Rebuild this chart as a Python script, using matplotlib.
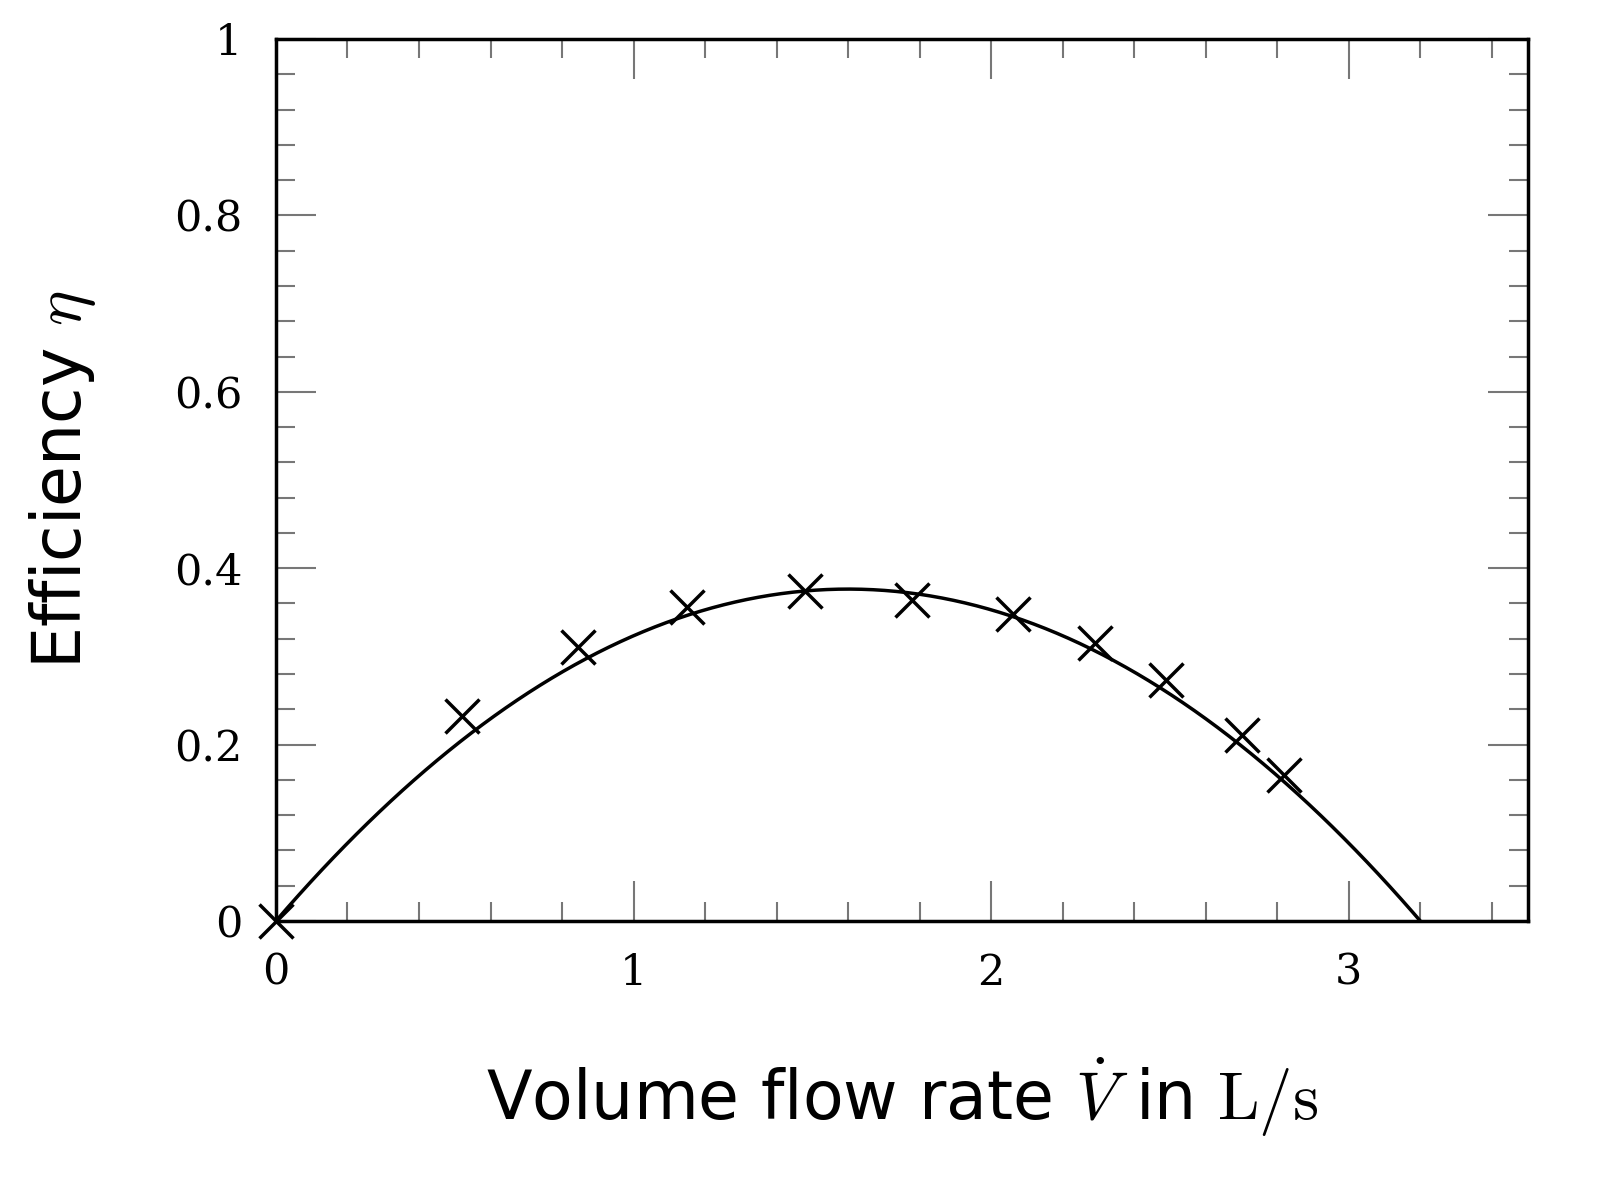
import matplotlib
matplotlib.use("Agg")
import matplotlib.pyplot as plt
import numpy as np
from matplotlib.ticker import MultipleLocator, FuncFormatter

plt.rcParams['mathtext.fontset'] = 'cm'

flow = [0.0, 0.52, 0.845, 1.15, 1.48, 1.78, 2.06, 2.29, 2.49, 2.70, 2.82]
eff = [0.0, 0.232, 0.311, 0.356, 0.374, 0.364, 0.348, 0.315, 0.273, 0.211, 0.166]
fit_coeffs = [-0.147, 0.4704, 0.0]  # quadratic fit eta = a x^2 + b x + c
fit_range = [0.0, 3.2]

fig = plt.figure(figsize=(16.08, 12), dpi=100)
ax = fig.add_axes([0.1716, 0.2325, 0.7784, 0.735])

xf = np.linspace(fit_range[0], fit_range[1], 300)
ax.plot(xf, np.polyval(fit_coeffs, xf), color='black', lw=2.5)
ax.plot(flow, eff, 'x', color='black', ms=25, mew=2.5, clip_on=False, zorder=5)

ax.set_xlim(0, 3.5)
ax.set_ylim(0, 1)
ax.xaxis.set_major_locator(MultipleLocator(1))
ax.xaxis.set_minor_locator(MultipleLocator(0.2))
ax.yaxis.set_major_locator(MultipleLocator(0.2))
ax.yaxis.set_minor_locator(MultipleLocator(0.04))
ax.tick_params(which='both', direction='in', top=True, right=True, color='#777777', width=1.5)
ax.tick_params(which='major', length=29)
ax.tick_params(which='minor', length=14)
ax.tick_params(which='major', labelsize=31)
ax.xaxis.set_major_formatter(FuncFormatter(lambda v, p: f"{v:g}"))
ax.yaxis.set_major_formatter(FuncFormatter(lambda v, p: f"{v:g}"))
for lab in ax.get_xticklabels() + ax.get_yticklabels():
    lab.set_family('DejaVu Serif')
ax.xaxis.set_tick_params(which='major', pad=22)
ax.yaxis.set_tick_params(which='major', pad=24)
for s in ax.spines.values():
    s.set_linewidth(2.5)

ax.set_xlabel(r"Volume flow rate $\dot{V}$ in $\mathrm{L/s}$", fontsize=48, labelpad=45)
ax.set_ylabel(r"Efficiency $\eta$", fontsize=48, labelpad=55)

fig.savefig("out.png", dpi=100)
